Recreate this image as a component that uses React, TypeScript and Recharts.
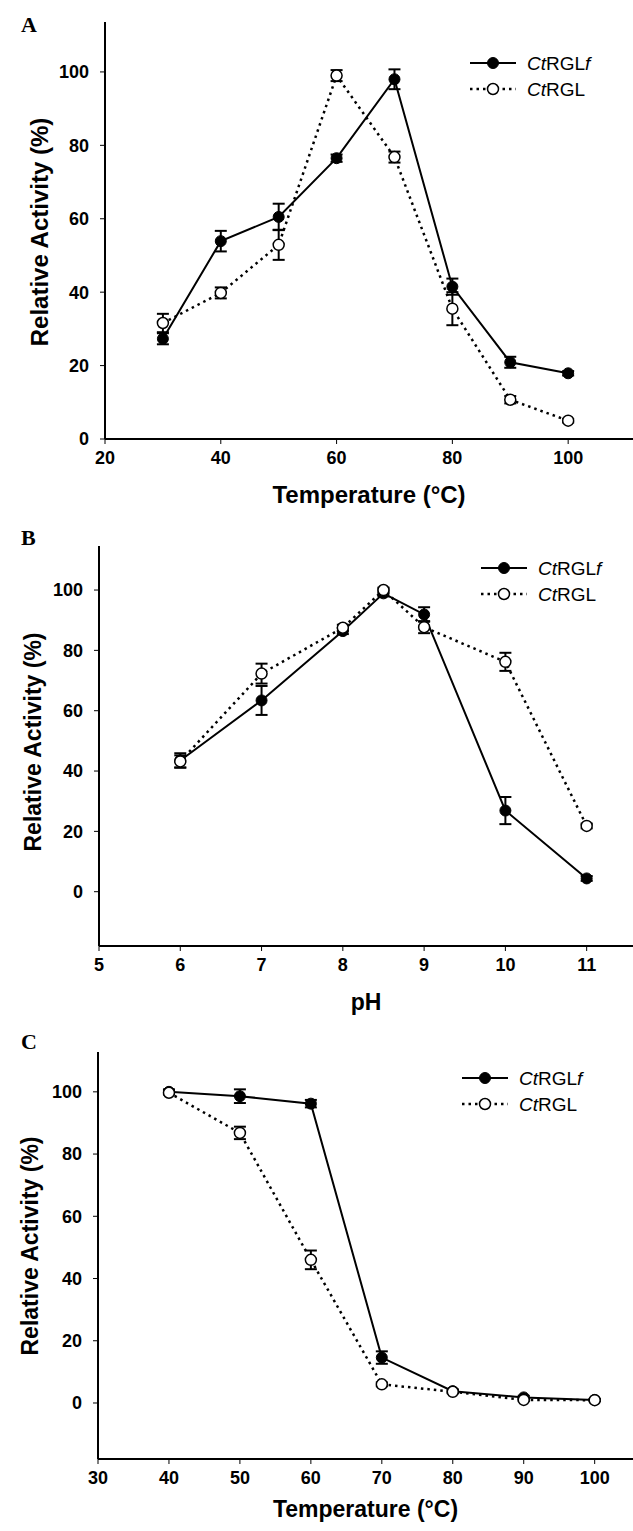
import React from "react"
import { LineChart, Line, XAxis, YAxis, ErrorBar, Legend } from "recharts"

// panel A: temperature optimum
const tempA = [30, 40, 50, 60, 70, 80, 90, 100]
const rglfA = [27.3, 53.9, 60.5, 76.5, 98, 41.5, 20.9, 17.9]
const rglfAErr = [1.5, 2.8, 3.6, 1, 2.7, 2.2, 1.5, 0.6]
const rglA = [31.6, 39.8, 52.9, 99, 76.8, 35.5, 10.7, 5]
const rglAErr = [2.5, 1.5, 4.1, 1.5, 1.5, 4.5, 1, 0.5]
const ticksAX = [20, 40, 60, 80, 100]

// panel B: pH optimum
const phB = [6, 7, 8, 8.5, 9, 10, 11]
const rglfB = [43.5, 63.4, 86.4, 98.9, 91.9, 26.9, 4.4]
const rglfBErr = [2.4, 4.8, 1, 1, 2.4, 4.5, 0.8]
const rglB = [43.2, 72.3, 87.5, 100, 87.7, 76.2, 21.8]
const rglBErr = [2, 3.3, 1, 0.8, 2, 3, 0.8]
const ticksBX = [5, 6, 7, 8, 9, 10, 11]

// panel C: thermal stability
const tempC = [40, 50, 60, 70, 80, 90, 100]
const rglfC = [100, 98.6, 96.2, 14.6, 3.8, 1.8, 1]
const rglfCErr = [0.8, 2.2, 1.2, 2, 0.6, 0.5, 0.3]
const rglC = [99.7, 86.8, 46, 6, 3.6, 1, 0.9]
const rglCErr = [0.5, 2, 3, 0.6, 0.5, 0.4, 0.3]
const ticksCX = [30, 40, 50, 60, 70, 80, 90, 100]

const ticksY = [0, 20, 40, 60, 80, 100]

const SANS = "'Liberation Sans', Arial, sans-serif"
const SERIF = "'Liberation Serif', 'Times New Roman', serif"

function build(x: number[], f: number[], fe: number[], g: number[], ge: number[]) {
  return x.map((v, i) => ({ x: v, f: f[i], fErr: fe[i], g: g[i], gErr: ge[i] }))
}

function LegendBox() {
  return (
    <svg width={150} height={56} style={{ display: "block", overflow: "visible" }}>
      <line x1={1} y1={10} x2={47} y2={10} stroke="#000" strokeWidth={2} />
      <circle cx={24} cy={10} r={5.5} fill="#000" stroke="#000" />
      <text x={58} y={17} fontSize={19} fontFamily={SANS} fill="#000">
        <tspan fontStyle="italic">Ct</tspan>RGL<tspan fontStyle="italic">f</tspan>
      </text>
      <line x1={1} y1={36} x2={47} y2={36} stroke="#000" strokeWidth={2.5} strokeDasharray="2.5 4" />
      <circle cx={24} cy={36} r={5.5} fill="#fff" stroke="#000" strokeWidth={1.5} />
      <text x={58} y={43} fontSize={19} fontFamily={SANS} fill="#000">
        <tspan fontStyle="italic">Ct</tspan>RGL
      </text>
    </svg>
  )
}

interface PanelProps {
  letter: string
  top: number
  height: number
  plotTop: number
  plotBottom: number
  axisLeft: number
  data: ReturnType<typeof build>
  xDomain: [number, number]
  xTicks: number[]
  yDomain: [number, number]
  xLabel: string
  xLabelY: number
  yLabelX: number
  yLabelY: number
  titleSize: number
  legendLeft: number
  legendTop: number
  letterTop: number
}

function Panel(p: PanelProps) {
  const tickStyle = { fill: "#000", fontSize: 18, fontWeight: "bold", fontFamily: SANS }
  return (
    <div style={{ position: "absolute", left: 0, top: p.top, width: 633, height: p.height }}>
      <div
        style={{
          position: "absolute", left: 21, top: p.letterTop, fontFamily: SERIF,
          fontWeight: "bold", fontSize: 22, lineHeight: "22px", color: "#000",
        }}
      >
        {p.letter}
      </div>
      <LineChart
        width={633}
        height={p.height}
        data={p.data}
        margin={{ top: p.plotTop, right: 0, bottom: 0, left: 0 }}
      >
        <XAxis
          dataKey="x"
          type="number"
          domain={p.xDomain}
          ticks={p.xTicks}
          allowDataOverflow
          height={p.height - p.plotBottom}
          tick={tickStyle}
          tickSize={5}
          tickMargin={7}
          tickLine={{ stroke: "#000", strokeWidth: 1 }}
          axisLine={{ stroke: "#000", strokeWidth: 2 }}
          label={{
            content: () => (
              <text
                x={(p.axisLeft + 633) / 2}
                y={p.xLabelY}
                textAnchor="middle"
                fontSize={p.titleSize}
                fontWeight="bold"
                fontFamily={SANS}
                fill="#000"
              >
                {p.xLabel}
              </text>
            ),
          }}
        />
        <YAxis
          type="number"
          domain={p.yDomain}
          ticks={ticksY}
          allowDataOverflow
          width={p.axisLeft}
          tick={tickStyle}
          tickSize={5}
          tickMargin={11}
          tickLine={{ stroke: "#000", strokeWidth: 1 }}
          axisLine={{ stroke: "#000", strokeWidth: 2 }}
          label={{
            content: () => (
              <text
                x={p.yLabelX}
                y={p.yLabelY}
                transform={`rotate(-90, ${p.yLabelX}, ${p.yLabelY})`}
                textAnchor="middle"
                dominantBaseline="central"
                fontSize={p.titleSize}
                fontWeight="bold"
                fontFamily={SANS}
                fill="#000"
              >
                Relative Activity (%)
              </text>
            ),
          }}
        />
        <Legend
          layout="vertical"
          align="center"
          verticalAlign="middle"
          content={() => <LegendBox />}
          wrapperStyle={{ position: "absolute", left: p.legendLeft, top: p.legendTop, width: 150 }}
        />
        <Line
          dataKey="f"
          stroke="#000"
          strokeWidth={2}
          dot={{ r: 5.5, fill: "#000", stroke: "#000", strokeWidth: 1 }}
          activeDot={false}
          isAnimationActive={false}
        >
          <ErrorBar dataKey="fErr" direction="y" width={6} stroke="#000" strokeWidth={2} />
        </Line>
        <Line
          dataKey="g"
          stroke="#000"
          strokeWidth={2.5}
          strokeDasharray="2.5 4"
          dot={{ r: 5.5, fill: "#fff", stroke: "#000", strokeWidth: 1.5, strokeDasharray: "" }}
          activeDot={false}
          isAnimationActive={false}
        >
          <ErrorBar dataKey="gErr" direction="y" width={6} stroke="#000" strokeWidth={2} />
        </Line>
      </LineChart>
    </div>
  )
}

export default function App() {
  return (
    <div style={{ position: "absolute", left: 0, top: 0, width: 633, height: 1531, background: "#fff" }}>
      <Panel
        letter="A"
        top={0}
        height={515}
        plotTop={22}
        plotBottom={439}
        axisLeft={105}
        data={build(tempA, rglfA, rglfAErr, rglA, rglAErr)}
        xDomain={[20, 111.2]}
        xTicks={ticksAX}
        yDomain={[0, 113.6]}
        xLabel="Temperature (°C)"
        xLabelY={503}
        yLabelX={39}
        yLabelY={232}
        titleSize={24}
        legendLeft={469}
        legendTop={53}
        letterTop={14}
      />
      <Panel
        letter="B"
        top={515}
        height={505}
        plotTop={31}
        plotBottom={431}
        axisLeft={99}
        data={build(phB, rglfB, rglfBErr, rglB, rglBErr)}
        xDomain={[5, 11.57]}
        xTicks={ticksBX}
        yDomain={[-18, 114.6]}
        xLabel="pH"
        xLabelY={495}
        yLabelX={33}
        yLabelY={227}
        titleSize={23}
        legendLeft={480}
        legendTop={43}
        letterTop={12}
      />
      <Panel
        letter="C"
        top={1020}
        height={511}
        plotTop={32}
        plotBottom={439}
        axisLeft={98}
        data={build(tempC, rglfC, rglfCErr, rglC, rglCErr)}
        xDomain={[30, 105.4]}
        xTicks={ticksCX}
        yDomain={[-18, 112.8]}
        xLabel="Temperature (°C)"
        xLabelY={497}
        yLabelX={30}
        yLabelY={226}
        titleSize={23}
        legendLeft={461}
        legendTop={48}
        letterTop={11}
      />
    </div>
  )
}
